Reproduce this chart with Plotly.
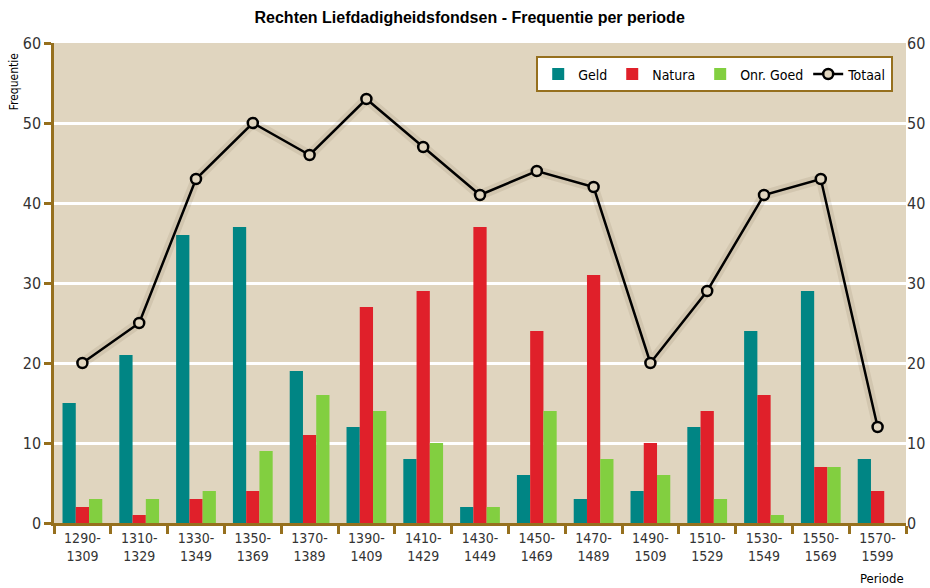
import plotly.graph_objects as go

periods = ["1290-<br>1309", "1310-<br>1329", "1330-<br>1349", "1350-<br>1369", "1370-<br>1389",
           "1390-<br>1409", "1410-<br>1429", "1430-<br>1449", "1450-<br>1469", "1470-<br>1489",
           "1490-<br>1509", "1510-<br>1529", "1530-<br>1549", "1550-<br>1569", "1570-<br>1599"]
geld = [15, 21, 36, 37, 19, 12, 8, 2, 6, 3, 4, 12, 24, 29, 8]
natura = [2, 1, 3, 4, 11, 27, 29, 37, 24, 31, 10, 14, 16, 7, 4]
onr_goed = [3, 3, 4, 9, 16, 14, 10, 2, 14, 8, 6, 3, 1, 7, 0]
totaal = [20, 25, 43, 50, 46, 53, 47, 41, 44, 42, 20, 29, 41, 43, 12]
y_ticks = [0, 10, 20, 30, 40, 50, 60]

BG = "#E0D5BF"
AXIS = "#96701E"
NARROW = "DejaVu Sans Condensed, Roboto Condensed, Liberation Sans Narrow, Roboto, sans-serif"

fig = go.Figure()
fig.add_trace(go.Bar(x=periods, y=geld, name="Geld", marker_color="#008584", marker_line_width=0))
fig.add_trace(go.Bar(x=periods, y=natura, name="Natura", marker_color="#E0202A", marker_line_width=0))
fig.add_trace(go.Bar(x=periods, y=onr_goed, name="Onr. Goed", marker_color="#82CF40", marker_line_width=0))
# soft halo imitating the drop shadow of the line
fig.add_trace(go.Scatter(x=periods, y=totaal, mode="lines", showlegend=False, hoverinfo="skip",
                         line=dict(color="rgba(90,70,40,0.10)", width=10)))
fig.add_trace(go.Scatter(x=periods, y=totaal, name="Totaal", mode="lines+markers",
                         line=dict(color="black", width=2.5),
                         marker=dict(symbol="circle", size=10, color=BG,
                                     line=dict(color="black", width=2.5))))
# invisible trace to activate right axis
fig.add_trace(go.Scatter(x=periods, y=totaal, yaxis="y2", mode="markers", showlegend=False,
                         hoverinfo="skip", marker=dict(opacity=0)))

fig.update_layout(
    width=930, height=588,
    margin=dict(l=54, r=24, t=43, b=65, autoexpand=False),
    paper_bgcolor="white",
    plot_bgcolor=BG,
    barmode="group",
    bargap=0.3,
    bargroupgap=0,
    title=dict(text="<b>Rechten Liefdadigheidsfondsen - Frequentie per periode</b>",
               x=0.505, xanchor="center", y=0.971, yanchor="middle",
               font=dict(family="Liberation Sans, Arial, sans-serif", size=16, color="black")),
    xaxis=dict(
        automargin=False, range=[-0.5, len(periods) - 0.5],
        showgrid=False, showline=True, linecolor=AXIS, linewidth=3,
        ticks="outside", tickson="boundaries", ticklen=8, tickwidth=3, tickcolor=AXIS,
        tickfont=dict(family=NARROW, size=14, color="#333333"),
    ),
    yaxis=dict(
        automargin=False,
        range=[0, 60], tickvals=y_ticks, showgrid=True, gridcolor="white", gridwidth=2.5,
        showline=True, linecolor=AXIS, linewidth=2.5, zeroline=False,
        ticks="outside", ticklen=7, tickwidth=3, tickcolor=AXIS,
        tickfont=dict(family=NARROW, size=16, color="#333333"),
    ),
    yaxis2=dict(
        automargin=False,
        range=[0, 60], tickvals=y_ticks, overlaying="y", side="right", showgrid=False,
        showline=False, zeroline=False, ticks="",
        tickfont=dict(family=NARROW, size=16, color="#333333"),
    ),
    legend=dict(
        orientation="h", x=0.985, xanchor="right", y=0.972, yanchor="top",
        bgcolor="white", bordercolor=AXIS, borderwidth=2,
        font=dict(family=NARROW, size=14, color="black"),
        traceorder="normal", itemwidth=30,
    ),
    annotations=[
        dict(text="Frequentie", textangle=-90, x=-0.047, xref="paper", y=0.92, yref="paper",
             showarrow=False, xanchor="center", yanchor="middle",
             font=dict(family=NARROW, size=12, color="black")),
        dict(text="Periode", x=1.0, xref="paper", y=-0.115, yref="paper", showarrow=False,
             xanchor="right", yanchor="middle", font=dict(family=NARROW, size=13, color="black")),
    ],
)

fig.write_html("out.html", config={"displayModeBar": False},
               post_script="document.body.style.margin='0';document.body.style.overflow='hidden';")
